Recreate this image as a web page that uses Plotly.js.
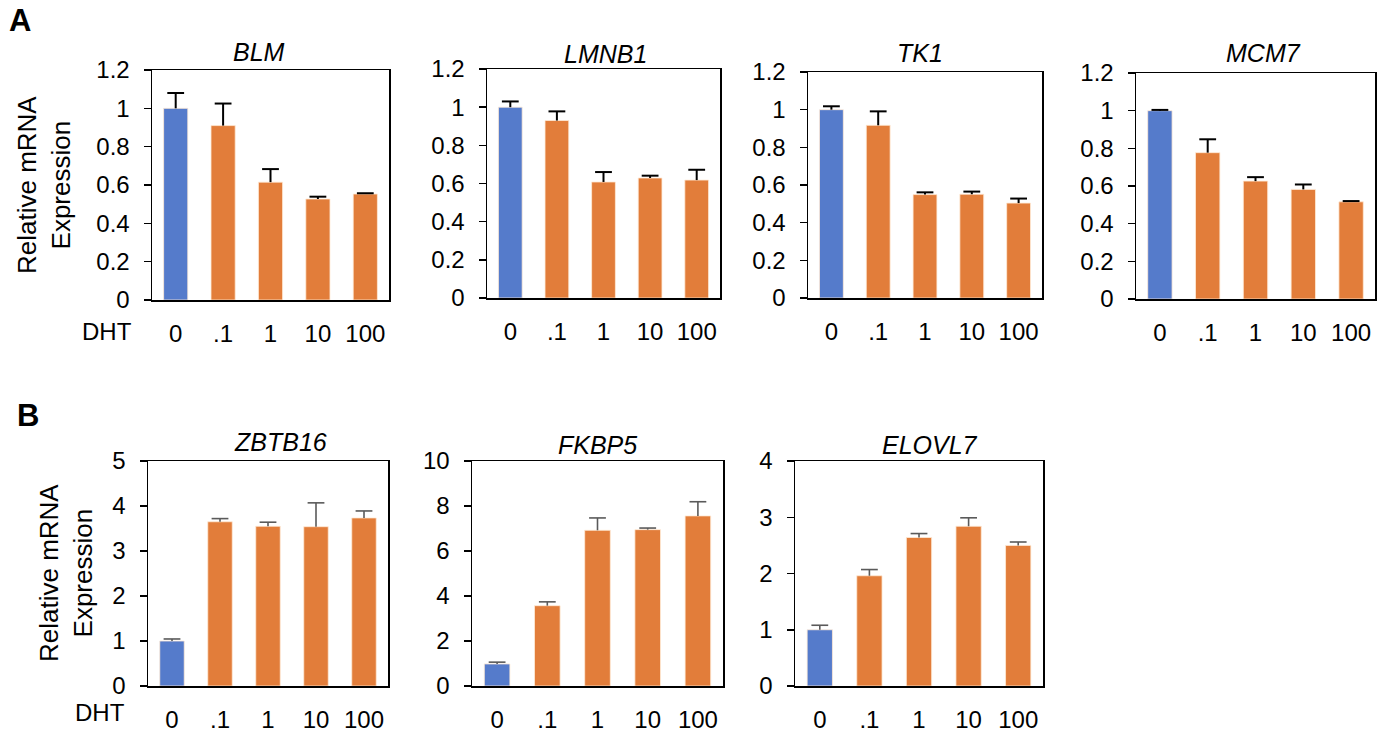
<!DOCTYPE html>
<html>
<head>
<meta charset="utf-8">
<script src="https://cdn.plot.ly/plotly-3.0.1.min.js"></script>
<style>html,body{margin:0;padding:0;background:#fff;}#chart{width:1389px;height:732px;}</style>
</head>
<body>
<div id="chart"></div>
<script>
// ---------- data ----------
const CATEGORIES = ['0', '.1', '1', '10', '100'];

const BLM_MEAN   = [1.00, 0.91, 0.615, 0.527, 0.553];
const BLM_ERR    = [0.08, 0.115, 0.068, 0.012, 0.004];
const LMNB1_MEAN = [1.00, 0.93, 0.608, 0.629, 0.618];
const LMNB1_ERR  = [0.03, 0.048, 0.052, 0.012, 0.054];
const TK1_MEAN   = [1.00, 0.917, 0.549, 0.551, 0.504];
const TK1_ERR    = [0.018, 0.074, 0.012, 0.014, 0.024];
const MCM7_MEAN  = [1.00, 0.777, 0.626, 0.582, 0.516];
const MCM7_ERR   = [0.004, 0.071, 0.021, 0.026, 0.004];

const ZBTB16_MEAN = [1.00, 3.65, 3.55, 3.54, 3.735];
const ZBTB16_ERR  = [0.045, 0.07, 0.09, 0.53, 0.155];
const FKBP5_MEAN  = [0.98, 3.57, 6.92, 6.95, 7.56];
const FKBP5_ERR   = [0.08, 0.17, 0.55, 0.07, 0.63];
const ELOVL7_MEAN = [1.00, 1.96, 2.64, 2.84, 2.50];
const ELOVL7_ERR  = [0.08, 0.11, 0.07, 0.15, 0.06];

const TICKS_A      = [0, 0.2, 0.4, 0.6, 0.8, 1, 1.2];
const TICKS_ZBTB16 = [0, 1, 2, 3, 4, 5];
const TICKS_FKBP5  = [0, 2, 4, 6, 8, 10];
const TICKS_ELOVL7 = [0, 1, 2, 3, 4];

const Y_TITLE = 'Relative mRNA<br>Expression';
const X_LABEL = 'DHT';

// ---------- styling ----------
const W = 1389, H = 732;
const BLUE = '#557BCB';
const ORANGE = '#E27D3A';
const FONT = 'Liberation Sans, Arial, Helvetica, sans-serif';
const TICK_SIZE = 24;

const panels = [
  {gene: 'BLM',    mean: BLM_MEAN,    err: BLM_ERR,    ticks: TICKS_A,      box: [152, 389, 70, 300],  tx: 259,  ty: 52,  ec: '#000', et: 2},
  {gene: 'LMNB1',  mean: LMNB1_MEAN,  err: LMNB1_ERR,  ticks: TICKS_A,      box: [487, 720, 69, 298],  tx: 605,  ty: 54,  ec: '#000', et: 2},
  {gene: 'TK1',    mean: TK1_MEAN,    err: TK1_ERR,    ticks: TICKS_A,      box: [808, 1042, 72, 298], tx: 920,  ty: 53,  ec: '#000', et: 2},
  {gene: 'MCM7',   mean: MCM7_MEAN,   err: MCM7_ERR,   ticks: TICKS_A,      box: [1136, 1375, 73, 299], tx: 1263, ty: 53, ec: '#000', et: 2},
  {gene: 'ZBTB16', mean: ZBTB16_MEAN, err: ZBTB16_ERR, ticks: TICKS_ZBTB16, box: [148, 388, 461, 686], tx: 280,  ty: 442, ec: '#5a5a5a', et: 1.6},
  {gene: 'FKBP5',  mean: FKBP5_MEAN,  err: FKBP5_ERR,  ticks: TICKS_FKBP5,  box: [472, 723, 461, 686], tx: 597,  ty: 445, ec: '#5a5a5a', et: 1.6},
  {gene: 'ELOVL7', mean: ELOVL7_MEAN, err: ELOVL7_ERR, ticks: TICKS_ELOVL7, box: [795, 1043, 461, 686], tx: 930, ty: 445, ec: '#5a5a5a', et: 1.6}
];

const data = [];
const layout = {
  width: W, height: H,
  margin: {l: 0, r: 0, t: 0, b: 0},
  paper_bgcolor: '#fff', plot_bgcolor: '#fff',
  showlegend: false,
  font: {family: FONT, size: TICK_SIZE, color: '#000'},
  bargap: 0.49,
  annotations: []
};

panels.forEach((p, i) => {
  const n = i + 1;
  const xa = 'xaxis' + (n === 1 ? '' : n);
  const ya = 'yaxis' + (n === 1 ? '' : n);
  const xr = 'x' + (n === 1 ? '' : n);
  const yr = 'y' + (n === 1 ? '' : n);
  const [x0, x1, y0, y1] = p.box;
  // bars
  data.push({
    type: 'bar',
    x: CATEGORIES,
    y: p.mean,
    xaxis: xr, yaxis: yr,
    marker: {
      color: p.mean.map((v, k) => k === 0 ? BLUE : ORANGE),
      line: {color: 'rgba(255,235,215,0.8)', width: 1}
    },
    hoverinfo: 'skip'
  });
  // upper error bars (stem down to bar top, cap at mean + err)
  data.push({
    type: 'scatter', mode: 'markers',
    x: CATEGORIES,
    y: p.mean.map((m, k) => m + p.err[k]),
    xaxis: xr, yaxis: yr,
    marker: {symbol: 'line-ew', size: 12, color: p.ec, line: {color: p.ec, width: p.et}},
    error_y: {
      type: 'data', symmetric: false,
      array: p.err.map(() => 0),
      arrayminus: p.err,
      color: p.ec, thickness: p.et, width: 0
    },
    hoverinfo: 'skip'
  });
  const top = p.ticks[p.ticks.length - 1];
  layout[xa] = {
    domain: [x0 / W, x1 / W],
    anchor: yr,
    type: 'category',
    range: [-0.5, 4.5],
    showline: true, mirror: true, linecolor: '#000', linewidth: 1.5,
    ticks: 'outside', ticklen: 12, tickcolor: 'rgba(0,0,0,0)',
    tickfont: {family: FONT, size: TICK_SIZE, color: '#000'},
    showgrid: false, zeroline: false, fixedrange: true
  };
  layout[ya] = {
    domain: [1 - y1 / H, 1 - y0 / H],
    anchor: xr,
    range: [0, top],
    tickvals: p.ticks,
    ticktext: p.ticks.map(String),
    showline: true, mirror: true, linecolor: '#000', linewidth: 1.5,
    ticks: 'outside', ticklen: 7, tickwidth: 1.5, tickcolor: '#000',
    ticklabelstandoff: 9,
    tickfont: {family: FONT, size: TICK_SIZE, color: '#000'},
    showgrid: false, zeroline: false, fixedrange: true
  };
  layout.annotations.push({
    xref: 'paper', yref: 'paper',
    x: p.tx / W, y: 1 - p.ty / H,
    xanchor: 'center', yanchor: 'middle',
    text: '<i>' + p.gene + '</i>', showarrow: false,
    font: {family: FONT, size: 25, color: '#000'}
  });
});

// row labels, y titles, DHT labels
const extra = [
  {text: '<b>A</b>', x: 20, y: 21, size: 31},
  {text: '<b>B</b>', x: 28, y: 415, size: 31},
  {text: X_LABEL, x: 107, y: 331, size: TICK_SIZE},
  {text: X_LABEL, x: 100, y: 712, size: TICK_SIZE}
];
extra.forEach(e => layout.annotations.push({
  xref: 'paper', yref: 'paper', x: e.x / W, y: 1 - e.y / H,
  xanchor: 'center', yanchor: 'middle', showarrow: false,
  text: e.text, font: {family: FONT, size: e.size, color: '#000'}
}));
[{x: 44, y: 185}, {x: 66, y: 573}].forEach(t => layout.annotations.push({
  xref: 'paper', yref: 'paper', x: t.x / W, y: 1 - t.y / H,
  xanchor: 'center', yanchor: 'middle', showarrow: false, textangle: -90,
  text: Y_TITLE, font: {family: FONT, size: 26, color: '#000'}
}));

Plotly.newPlot('chart', data, layout, {displayModeBar: false, staticPlot: true});
</script>
</body>
</html>
